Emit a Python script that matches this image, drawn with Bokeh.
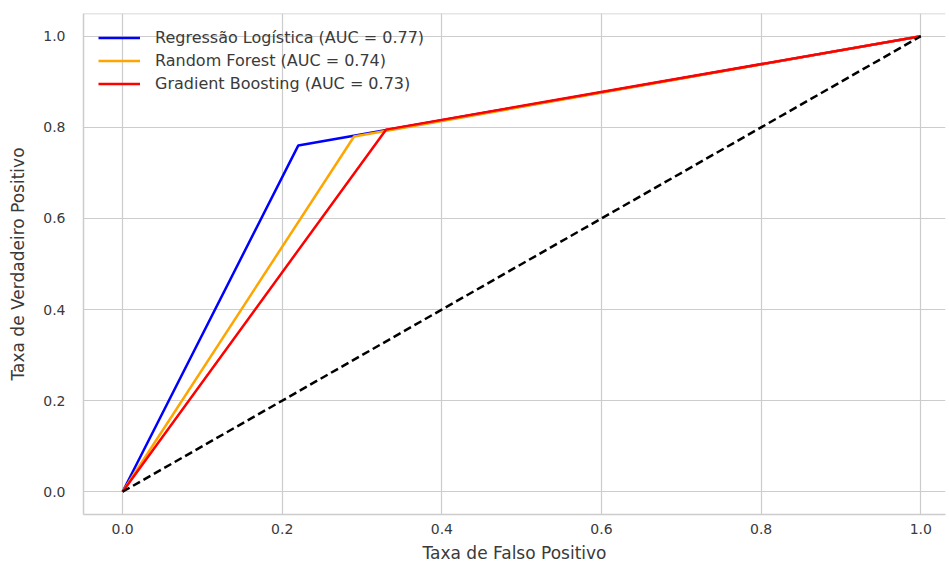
from bokeh.plotting import figure
from bokeh.models import Range1d, FixedTicker, PrintfTickFormatter, Legend, LegendItem, Span
from bokeh.embed import file_html
from bokeh.resources import INLINE

fpr_lr = [0.0, 0.22, 1.0]
tpr_lr = [0.0, 0.76, 1.0]
fpr_rf = [0.0, 0.29, 1.0]
tpr_rf = [0.0, 0.78, 1.0]
fpr_gb = [0.0, 0.33, 1.0]
tpr_gb = [0.0, 0.795, 1.0]
diag = [0.0, 1.0]
labels = ["Regressão Logística (AUC = 0.77)",
          "Random Forest (AUC = 0.74)",
          "Gradient Boosting (AUC = 0.73)"]
ticks = [0.0, 0.2, 0.4, 0.6, 0.8, 1.0]

FONT = "DejaVu Sans"
TXT = "#3a3a3a"
GRID = "#cccccc"

p = figure(width=949, height=565, output_backend="svg", toolbar_location=None,
           x_range=Range1d(-0.049, 1.031), y_range=Range1d(-0.05, 1.05),
           min_border_left=83, min_border_right=4, min_border_top=13, min_border_bottom=49)
p.outline_line_color = None
p.background_fill_color = "white"

r1 = p.line(fpr_lr, tpr_lr, line_color="blue", line_width=2.5)
r2 = p.line(fpr_rf, tpr_rf, line_color="orange", line_width=2.5)
r3 = p.line(fpr_gb, tpr_gb, line_color="red", line_width=2.5)
p.line(diag, diag, line_color="black", line_width=2.5, line_dash="8 4")

p.add_layout(Span(location=1.05, dimension="width", line_color=GRID, line_width=1.5))

for ax in (p.xaxis[0], p.yaxis[0]):
    ax.ticker = FixedTicker(ticks=ticks)
    ax.formatter = PrintfTickFormatter(format="%.1f")
    ax.axis_line_color = GRID
    ax.axis_line_width = 1.5
    ax.major_tick_line_color = None
    ax.minor_tick_line_color = None
    ax.major_label_text_font = FONT
    ax.major_label_text_font_size = "14px"
    ax.major_label_text_color = TXT
    ax.axis_label_text_font = FONT
    ax.axis_label_text_font_size = "17px"
    ax.axis_label_text_font_style = "normal"
    ax.axis_label_text_color = TXT

p.xaxis.axis_label = "Taxa de Falso Positivo"
p.yaxis.axis_label = "Taxa de Verdadeiro Positivo"
p.xaxis.major_label_standoff = 3
p.xaxis.axis_label_standoff = 6
p.yaxis.major_label_standoff = 12
p.yaxis.axis_label_standoff = 12

p.xgrid.ticker = FixedTicker(ticks=ticks)
p.ygrid.ticker = FixedTicker(ticks=ticks)
p.grid.grid_line_color = GRID
p.grid.grid_line_width = 1.2

legend = Legend(items=[LegendItem(label=labels[0], renderers=[r1]),
                       LegendItem(label=labels[1], renderers=[r2]),
                       LegendItem(label=labels[2], renderers=[r3])],
                location="top_left")
legend.margin = 15
legend.padding = 5
legend.spacing = 4
legend.label_height = 15
legend.glyph_height = 15
legend.glyph_width = 42
legend.label_standoff = 15
legend.label_text_font = FONT
legend.label_text_font_size = "16px"
legend.label_text_color = TXT
legend.border_line_color = None
legend.background_fill_alpha = 0.0
p.add_layout(legend)

open("out.html", "w").write(file_html(p, INLINE))
